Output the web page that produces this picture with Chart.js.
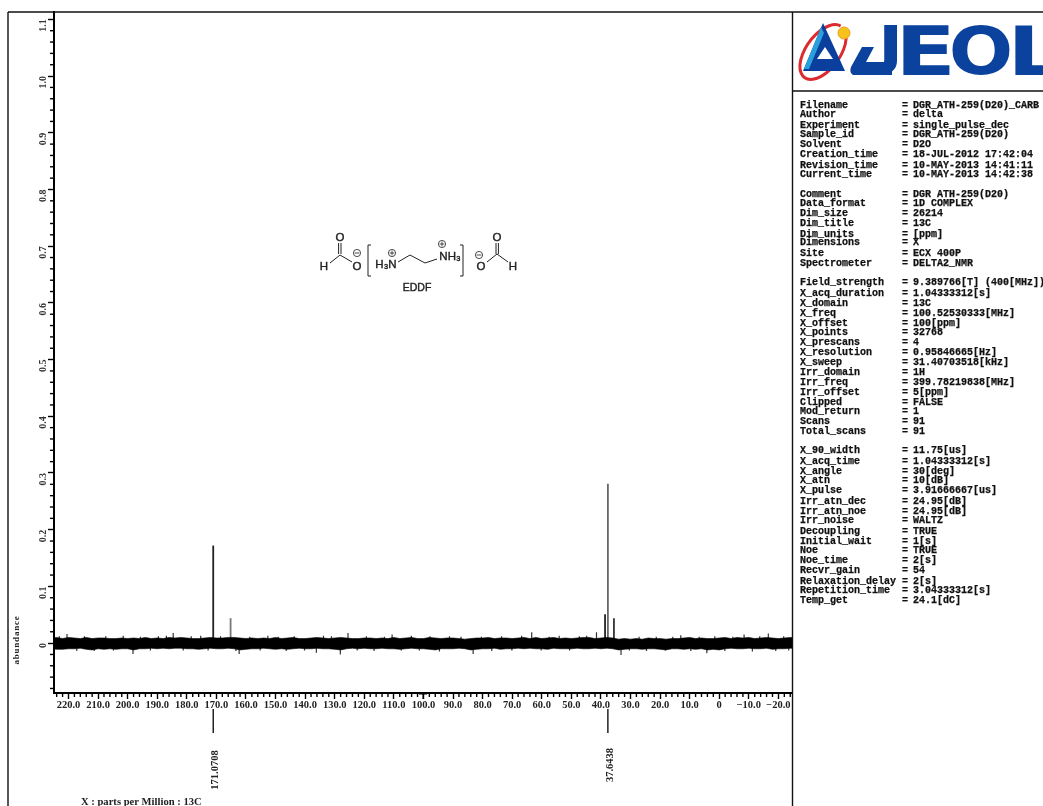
<!DOCTYPE html>
<html>
<head>
<meta charset="utf-8">
<title>EDDF 13C NMR</title>
<script src="https://cdn.jsdelivr.net/npm/chart.js@4"></script>
<style>
  html, body { margin: 0; padding: 0; background: #fff; }
  canvas { display: block; filter: blur(0.4px); }
</style>
</head>
<body>
<canvas id="espectro" width="1043" height="806"></canvas>
<script>
// axis ticks
const xTickValues = [220, 210, 200, 190, 180, 170, 160, 150, 140, 130, 120, 110, 100, 90, 80, 70, 60, 50, 40, 30, 20, 10, 0, -10, -20];
const xTickLabels = ['220.0', '210.0', '200.0', '190.0', '180.0', '170.0', '160.0', '150.0', '140.0', '130.0', '120.0', '110.0', '100.0', '90.0', '80.0', '70.0', '60.0', '50.0', '40.0', '30.0', '20.0', '10.0', '0', '\u221210.0', '\u221220.0'];
const yTickValues = [0, 0.1, 0.2, 0.3, 0.4, 0.5, 0.6, 0.7, 0.8, 0.9, 1.0, 1.1];

// signals
const peakPpm = [171.07, 165.2, 38.6, 37.64, 35.6];
const peakHeight = [0.172, 0.044, 0.051, 0.281, 0.044];
const peakColor = ['#222', '#777', '#222', '#666', '#333'];

// picked peaks printed under the axis
const pickedPpm = [171.0708, 37.6438];

// baseline noise envelope
const baselinePpm = [
  226, 224, 222, 220, 218, 216, 214, 212, 210, 208,
  206, 204, 202, 200, 198, 196, 194, 192, 190, 188,
  186, 184, 182, 180, 178, 176, 174, 172, 170, 168,
  166, 164, 162, 160, 158, 156, 154, 152, 150, 148,
  146, 144, 142, 140, 138, 136, 134, 132, 130, 128,
  126, 124, 122, 120, 118, 116, 114, 112, 110, 108,
  106, 104, 102, 100, 98, 96, 94, 92, 90, 88,
  86, 84, 82, 80, 78, 76, 74, 72, 70, 68,
  66, 64, 62, 60, 58, 56, 54, 52, 50, 48,
  46, 44, 42, 40, 38, 36, 34, 32, 30, 28,
  26, 24, 22, 20, 18, 16, 14, 12, 10, 8,
  6, 4, 2, 0, -2, -4, -6, -8, -10, -12,
  -14, -16, -18, -20, -22, -24, -26
];
const noiseHigh = [
  0.009, 0.010, 0.008, 0.010, 0.009, 0.008, 0.010, 0.008, 0.009, 0.009,
  0.008, 0.008, 0.009, 0.008, 0.009, 0.008, 0.010, 0.008, 0.009, 0.008,
  0.010, 0.009, 0.010, 0.009, 0.008, 0.008, 0.009, 0.010, 0.009, 0.009,
  0.010, 0.010, 0.009, 0.008, 0.009, 0.008, 0.009, 0.008, 0.010, 0.008,
  0.009, 0.010, 0.008, 0.008, 0.009, 0.010, 0.009, 0.008, 0.009, 0.010,
  0.009, 0.008, 0.008, 0.009, 0.009, 0.008, 0.009, 0.008, 0.010, 0.008,
  0.009, 0.010, 0.008, 0.008, 0.010, 0.009, 0.008, 0.009, 0.009, 0.008,
  0.007, 0.008, 0.009, 0.009, 0.010, 0.008, 0.009, 0.009, 0.008, 0.009,
  0.010, 0.008, 0.010, 0.008, 0.009, 0.010, 0.008, 0.009, 0.008, 0.009,
  0.010, 0.010, 0.008, 0.009, 0.010, 0.009, 0.007, 0.008, 0.007, 0.008,
  0.007, 0.009, 0.008, 0.008, 0.007, 0.008, 0.008, 0.009, 0.010, 0.008,
  0.009, 0.008, 0.008, 0.009, 0.010, 0.008, 0.010, 0.009, 0.010, 0.008,
  0.009, 0.010, 0.009, 0.008, 0.009, 0.010, 0.010
];
const noiseLow = [
  -0.010, -0.011, -0.011, -0.010, -0.010, -0.009, -0.011, -0.012, -0.010, -0.011,
  -0.010, -0.011, -0.010, -0.010, -0.012, -0.010, -0.010, -0.009, -0.010, -0.009,
  -0.010, -0.009, -0.009, -0.010, -0.010, -0.011, -0.010, -0.009, -0.010, -0.010,
  -0.009, -0.010, -0.012, -0.011, -0.010, -0.010, -0.009, -0.010, -0.011, -0.010,
  -0.011, -0.010, -0.009, -0.010, -0.010, -0.009, -0.010, -0.010, -0.011, -0.012,
  -0.010, -0.009, -0.010, -0.009, -0.010, -0.010, -0.009, -0.010, -0.010, -0.011,
  -0.010, -0.009, -0.010, -0.010, -0.011, -0.012, -0.010, -0.010, -0.010, -0.009,
  -0.010, -0.012, -0.011, -0.010, -0.010, -0.009, -0.011, -0.010, -0.010, -0.009,
  -0.010, -0.009, -0.010, -0.010, -0.011, -0.009, -0.010, -0.010, -0.010, -0.009,
  -0.010, -0.010, -0.009, -0.010, -0.009, -0.010, -0.012, -0.011, -0.010, -0.010,
  -0.011, -0.010, -0.010, -0.011, -0.012, -0.010, -0.010, -0.011, -0.010, -0.011,
  -0.010, -0.012, -0.011, -0.012, -0.010, -0.009, -0.010, -0.010, -0.009, -0.010,
  -0.010, -0.009, -0.011, -0.010, -0.010, -0.009, -0.010
];

// isolated noise spikes that stick out of the envelope
const spikePpm = [
  223.1, 220.5, 217.2, 214.6, 211.3, 207.4, 204.8, 201.5, 198.2, 195.7, 192.3, 189.6, 186.9, 184.6, 181.2, 178.5,
  175.3, 172.8, 168.6, 163.4, 162.3, 158.7, 155.2, 152.6, 149.1, 146.4, 143.7, 140.2, 136.2, 133.8, 131.1, 128.1,
  125.5, 122.4, 119.3, 116.7, 113.2, 110.6, 107.5, 104.1, 101.4, 97.8, 94.6, 91.2, 87.3, 83.2, 80.4, 76.9,
  73.6, 70.1, 66.8, 63.4, 60.2, 57.5, 54.1, 50.6, 47.3, 44.8, 41.5, 33.2, 30.4, 27.1, 24.6, 21.3,
  18.2, 15.7, 13.0, 9.6, 6.8, 4.2, 1.5, -1.9, -4.6, -8.4, -11.2, -13.7, -16.6, -19.1, -21.8, -23.5
];
const spikeValue = [
  0.012, 0.016, -0.014, 0.012, -0.014, 0.012, -0.013, 0.013, -0.019, 0.011, -0.013, 0.012, 0.013, 0.018, -0.013, 0.012,
  0.013, -0.013, 0.012, -0.014, -0.019, 0.011, -0.013, 0.013, 0.011, -0.014, 0.012, -0.013, -0.017, 0.013, 0.012, -0.020,
  0.018, -0.013, 0.012, -0.014, 0.011, 0.015, -0.013, 0.013, -0.013, 0.012, -0.015, 0.012, 0.011, -0.019, 0.011, -0.014,
  0.012, -0.013, 0.013, 0.019, -0.013, 0.011, 0.013, -0.013, 0.012, 0.013, 0.019, -0.021, -0.013, 0.011, -0.014, 0.011,
  -0.013, 0.011, 0.014, -0.014, 0.011, -0.018, 0.012, -0.014, 0.011, 0.015, -0.015, 0.012, 0.017, -0.014, 0.012, -0.013
];

// acquisition parameter panel
const metaNames = [
  'Filename', 'Author', 'Experiment', 'Sample_id', 'Solvent', 'Creation_time', 'Revision_time', 'Current_time',
  'Comment', 'Data_format', 'Dim_size', 'Dim_title', 'Dim_units', 'Dimensions', 'Site', 'Spectrometer',
  'Field_strength', 'X_acq_duration', 'X_domain', 'X_freq', 'X_offset', 'X_points', 'X_prescans', 'X_resolution',
  'X_sweep', 'Irr_domain', 'Irr_freq', 'Irr_offset', 'Clipped', 'Mod_return', 'Scans', 'Total_scans',
  'X_90_width', 'X_acq_time', 'X_angle', 'X_atn', 'X_pulse', 'Irr_atn_dec', 'Irr_atn_noe', 'Irr_noise',
  'Decoupling', 'Initial_wait', 'Noe', 'Noe_time', 'Recvr_gain', 'Relaxation_delay', 'Repetition_time', 'Temp_get'
];
const metaValues = [
  'DGR_ATH-259(D20)_CARB', 'delta', 'single_pulse_dec', 'DGR_ATH-259(D20)', 'D2O', '18-JUL-2012 17:42:04', '10-MAY-2013 14:41:11', '10-MAY-2013 14:42:38',
  'DGR ATH-259(D20)', '1D COMPLEX', '26214', '13C', '[ppm]', 'X', 'ECX 400P', 'DELTA2_NMR',
  '9.389766[T] (400[MHz])', '1.04333312[s]', '13C', '100.52530333[MHz]', '100[ppm]', '32768', '4', '0.95846665[Hz]',
  '31.40703518[kHz]', '1H', '399.78219838[MHz]', '5[ppm]', 'FALSE', '1', '91', '91',
  '11.75[us]', '1.04333312[s]', '30[deg]', '10[dB]', '3.91666667[us]', '24.95[dB]', '24.95[dB]', 'WALTZ',
  'TRUE', '1[s]', 'TRUE', '2[s]', '54', '2[s]', '3.04333312[s]', '24.1[dC]'
];
const metaRowY = [
  105, 114, 125, 134, 144, 154, 165, 174,
  194, 203, 213, 223, 234, 242, 253, 263,
  282, 293, 303, 313, 323, 332, 342, 352,
  362, 372, 382, 392, 402, 411, 421, 431,
  450, 461, 471, 480, 490, 501, 511, 520,
  531, 541, 550, 560, 570, 581, 590, 600
];

const serif = '"Liberation Serif", serif';

// noise is a band filled between the two envelope lines
const datasets = [
  {
    data: baselinePpm.map((x, i) => ({ x: x, y: noiseHigh[i] })),
    borderColor: '#000', backgroundColor: '#000', borderWidth: 0.6, pointRadius: 0, fill: '+1'
  },
  {
    data: baselinePpm.map((x, i) => ({ x: x, y: noiseLow[i] })),
    borderColor: '#000', borderWidth: 0.6, pointRadius: 0, fill: false
  }
];

// spikes as thin sticks from the baseline
const spikeData = [];
spikePpm.forEach((x, i) => {
  spikeData.push({ x: x, y: 0 }, { x: x, y: spikeValue[i] }, { x: x, y: null });
});
datasets.push({ data: spikeData, borderColor: '#333', borderWidth: 1.2, pointRadius: 0, spanGaps: false });

peakPpm.forEach((x, i) => {
  datasets.push({
    data: [{ x: x, y: 0 }, { x: x, y: peakHeight[i] }],
    borderColor: peakColor[i], borderWidth: 1.8, pointRadius: 0
  });
});

function line(ctx, x1, y1, x2, y2) {
  ctx.beginPath();
  ctx.moveTo(x1, y1);
  ctx.lineTo(x2, y2);
  ctx.stroke();
}

function chargeMark(ctx, x, y, plus) {
  ctx.lineWidth = 0.8;
  ctx.beginPath();
  ctx.arc(x, y, 3.6, 0, Math.PI * 2);
  ctx.stroke();
  line(ctx, x - 2.4, y, x + 2.4, y);
  if (plus) line(ctx, x, y - 2.4, x, y + 2.4);
}

// text a little heavier than the regular cut, like the printed sheet
function heavyText(ctx, text, x, y, weight) {
  ctx.lineWidth = weight;
  ctx.fillText(text, x, y);
  ctx.strokeText(text, x, y);
}

function drawStructure(ctx) {
  ctx.save();
  ctx.strokeStyle = '#222';
  ctx.fillStyle = '#222';
  ctx.lineWidth = 1;
  // left formate
  line(ctx, 330, 263, 340, 255);
  line(ctx, 340, 255, 352, 262);
  line(ctx, 338.6, 254, 338.6, 243);
  line(ctx, 341, 254, 341, 243);
  // right formate
  line(ctx, 487, 262, 497, 254);
  line(ctx, 497, 254, 508, 262);
  line(ctx, 496, 254, 496, 243);
  line(ctx, 498.4, 254, 498.4, 243);
  // cation chain
  line(ctx, 398, 262, 410, 255);
  line(ctx, 410, 255, 425, 263);
  line(ctx, 425, 263, 437, 259);
  // brackets
  line(ctx, 371, 245, 368, 245);
  line(ctx, 368, 245, 368, 276);
  line(ctx, 368, 276, 371, 276);
  line(ctx, 460, 245, 463, 245);
  line(ctx, 463, 245, 463, 276);
  line(ctx, 463, 276, 460, 276);
  chargeMark(ctx, 357, 253, false);
  chargeMark(ctx, 392, 253, true);
  chargeMark(ctx, 442, 244, true);
  chargeMark(ctx, 479, 255, false);
  ctx.font = '11.5px "Liberation Sans", sans-serif';
  ctx.textAlign = 'center';
  ctx.textBaseline = 'middle';
  heavyText(ctx, 'H', 324, 267, 0.4);
  heavyText(ctx, 'O', 340, 238, 0.4);
  heavyText(ctx, 'O', 357, 267, 0.4);
  heavyText(ctx, 'O', 497, 238, 0.4);
  heavyText(ctx, 'O', 481, 267, 0.4);
  heavyText(ctx, 'H', 513, 267, 0.4);
  heavyText(ctx, 'H\u2083N', 386, 265, 0.4);
  heavyText(ctx, 'NH\u2083', 450, 257, 0.4);
  ctx.font = '10.5px "Liberation Sans", sans-serif';
  heavyText(ctx, 'EDDF', 417, 288, 0.4);
  ctx.restore();
}

// one wordmark letter fitted into its box
function logoLetter(ctx, ch, x0, x1, y0, y1) {
  const m = ctx.measureText(ch);
  const w = m.actualBoundingBoxLeft + m.actualBoundingBoxRight;
  const h = m.actualBoundingBoxAscent + m.actualBoundingBoxDescent;
  ctx.save();
  ctx.translate(x0, y0);
  ctx.scale((x1 - x0) / w, (y1 - y0) / h);
  ctx.fillText(ch, m.actualBoundingBoxLeft, m.actualBoundingBoxAscent);
  ctx.restore();
}

function drawLogo(ctx) {
  ctx.save();
  // ring
  ctx.strokeStyle = '#dc2a2e';
  ctx.lineWidth = 3;
  ctx.beginPath();
  ctx.ellipse(823, 52, 31.5, 17, -54 * Math.PI / 180, 0.1 * Math.PI, 1.98 * Math.PI);
  ctx.stroke();
  // triangle
  ctx.fillStyle = '#0b3f9e';
  ctx.beginPath();
  ctx.moveTo(823, 23);
  ctx.lineTo(803, 71);
  ctx.lineTo(845, 71);
  ctx.closePath();
  ctx.fill();
  ctx.fillStyle = '#2a9fdc';
  ctx.beginPath();
  ctx.moveTo(821, 27);
  ctx.lineTo(804, 69);
  ctx.lineTo(809, 69);
  ctx.lineTo(824, 33);
  ctx.closePath();
  ctx.fill();
  ctx.fillStyle = '#fff';
  ctx.beginPath();
  ctx.moveTo(825, 47);
  ctx.lineTo(817, 59);
  ctx.lineTo(833, 59);
  ctx.closePath();
  ctx.fill();
  ctx.fillStyle = '#f6c21c';
  ctx.strokeStyle = '#ee9a1a';
  ctx.lineWidth = 1;
  ctx.beginPath();
  ctx.arc(844, 33, 6, 0, Math.PI * 2);
  ctx.fill();
  ctx.stroke();
  // wordmark
  ctx.fillStyle = '#0a429e';
  ctx.font = 'bold 68px "DejaVu Sans", sans-serif';
  ctx.textAlign = 'left';
  ctx.textBaseline = 'alphabetic';
  logoLetter(ctx, 'J', 874, 898, 25, 75);
  logoLetter(ctx, 'E', 903, 950, 25, 75);
  logoLetter(ctx, 'O', 952, 1010, 25, 75);
  logoLetter(ctx, 'L', 1015, 1062, 25, 75);
  // hook of the J
  ctx.beginPath();
  ctx.moveTo(862, 47);
  ctx.lineTo(874, 47);
  ctx.lineTo(866, 62);
  ctx.lineTo(892, 62);
  ctx.lineTo(892, 75);
  ctx.lineTo(853, 75);
  ctx.quadraticCurveTo(849, 72, 851, 67);
  ctx.closePath();
  ctx.fill();
  ctx.restore();
}

function drawMeta(ctx) {
  ctx.save();
  ctx.fillStyle = '#111';
  ctx.strokeStyle = '#111';
  ctx.font = 'bold 10px "Liberation Mono", monospace';
  ctx.textBaseline = 'middle';
  ctx.textAlign = 'left';
  metaNames.forEach((name, i) => {
    heavyText(ctx, name, 800, metaRowY[i], 0.25);
    heavyText(ctx, '=', 902, metaRowY[i], 0.25);
    heavyText(ctx, metaValues[i], 913, metaRowY[i], 0.25);
  });
  ctx.restore();
}

// frame, minor ticks, picked peak labels and side panel
const hojaPlugin = {
  id: 'hoja',
  afterDraw(chart) {
    const ctx = chart.ctx;
    const a = chart.chartArea;
    const xs = chart.scales.x;
    const ys = chart.scales.y;
    ctx.save();
    ctx.strokeStyle = '#111';
    ctx.lineWidth = 1.4;
    line(ctx, 8, 12, 1043, 12);
    line(ctx, 8, 12, 8, 806);
    line(ctx, 792.5, 12, 792.5, 806);
    line(ctx, 792.5, 91, 1043, 91);

    // minor ticks
    ctx.strokeStyle = '#000';
    ctx.lineWidth = 1.4;
    for (let v = -24; v <= 224; v += 2) {
      if (v % 10 !== 0) {
        const px = xs.getPixelForValue(v);
        line(ctx, px, a.bottom, px, a.bottom + 4);
      }
    }
    for (let k = -4; k <= 55; k++) {
      if (k % 5 !== 0) {
        const py = ys.getPixelForValue(k * 0.02);
        line(ctx, a.left, py, a.left - 4, py);
      }
    }
    // centre mark on the axis
    ctx.lineWidth = 1;
    line(ctx, 423, a.bottom, 423, a.bottom + 6);
    line(ctx, 419, a.bottom + 1, 427, a.bottom + 1);

    // picked peaks
    ctx.fillStyle = '#222';
    ctx.strokeStyle = '#222';
    ctx.font = 'bold 10.5px ' + serif;
    ctx.textAlign = 'center';
    ctx.textBaseline = 'middle';
    pickedPpm.forEach((p) => {
      const px = xs.getPixelForValue(p);
      ctx.lineWidth = 1.3;
      ctx.strokeStyle = '#000';
      line(ctx, px, 709, px, 733);
      ctx.save();
      ctx.translate(px + 2.5, p > 100 ? 770 : 765);
      ctx.rotate(-Math.PI / 2);
      ctx.fillText(p.toFixed(4), 0, 0);
      ctx.restore();
    });

    // axis titles
    ctx.save();
    ctx.translate(17, 640);
    ctx.rotate(-Math.PI / 2);
    ctx.font = 'bold 9px ' + serif;
    ctx.letterSpacing = '0.8px';
    ctx.fillText('abundance', 0, 0);
    ctx.restore();
    ctx.font = 'bold 10.6px ' + serif;
    ctx.textAlign = 'left';
    ctx.fillText('X : parts per Million : 13C', 81, 802);
    ctx.restore();

    drawStructure(ctx);
    drawLogo(ctx);
    drawMeta(ctx);
  }
};

new Chart(document.getElementById('espectro').getContext('2d'), {
  type: 'line',
  data: { datasets: datasets },
  plugins: [hojaPlugin],
  options: {
    responsive: false,
    animation: false,
    devicePixelRatio: 1,
    elements: { line: { tension: 0 } },
    layout: { padding: { left: 8, top: 12, right: 251, bottom: 0 } },
    plugins: { legend: { display: false }, tooltip: { enabled: false }, title: { display: false } },
    scales: {
      x: {
        type: 'linear',
        reverse: true,
        min: -24.6,
        max: 224.9,
        afterBuildTicks: (scale) => { scale.ticks = xTickValues.map((v) => ({ value: v })); },
        afterFit: (scale) => { scale.height = 113; },
        border: { color: '#000', width: 2 },
        grid: { drawOnChartArea: false, tickLength: 6, tickColor: '#000', tickWidth: 1.4 },
        ticks: {
          autoSkip: false,
          maxRotation: 0,
          minRotation: 0,
          padding: 0,
          color: '#222',
          font: { family: serif, size: 10.5, weight: 'bold' },
          callback: (v, i) => xTickLabels[i]
        }
      },
      y: {
        type: 'linear',
        min: -0.088,
        max: 1.113,
        afterBuildTicks: (scale) => { scale.ticks = yTickValues.map((v) => ({ value: v })); },
        afterFit: (scale) => { scale.width = 46; },
        border: { color: '#000', width: 2 },
        grid: { drawOnChartArea: false, tickLength: 6, tickColor: '#000', tickWidth: 1.4 },
        ticks: {
          autoSkip: false,
          minRotation: 90,
          maxRotation: 90,
          padding: 5,
          color: '#333',
          font: { family: serif, size: 10, weight: 'bold' },
          callback: (v) => (v === 0 ? '0' : v.toFixed(1))
        }
      }
    }
  }
});
</script>
</body>
</html>
